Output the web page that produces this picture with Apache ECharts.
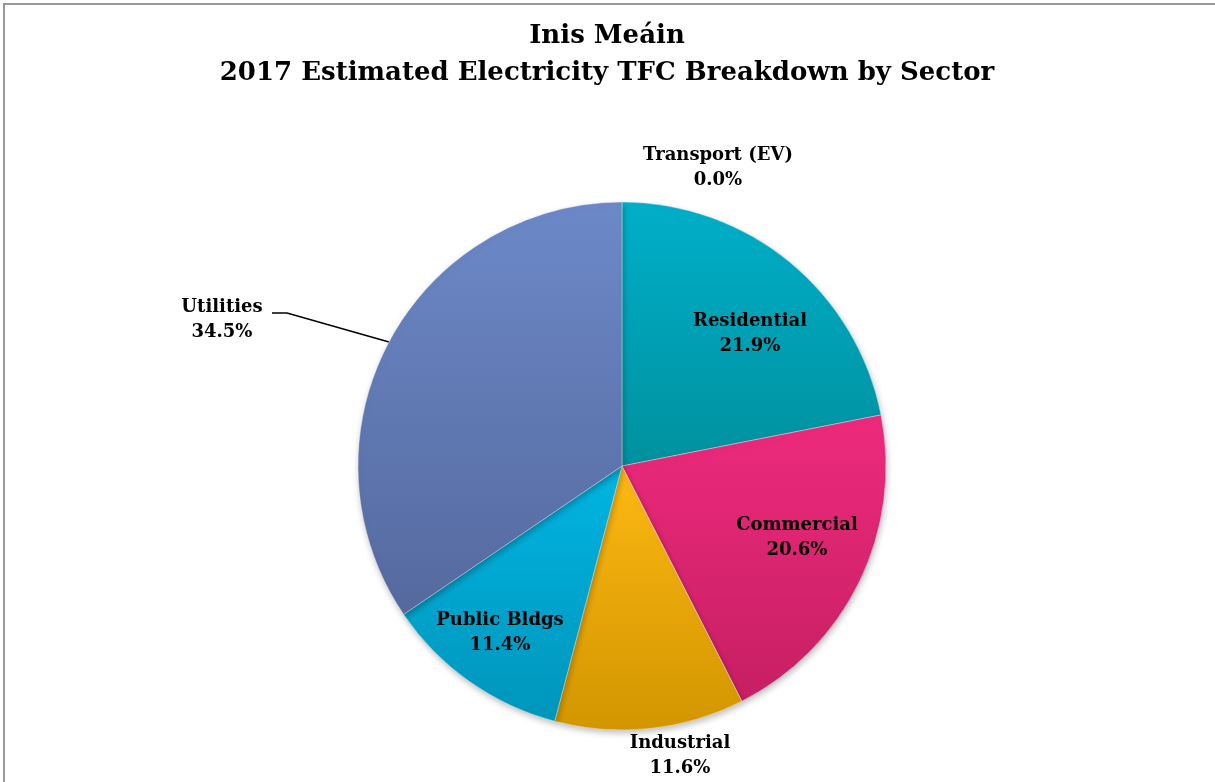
<!DOCTYPE html>
<html>
<head>
<meta charset="utf-8">
<script src="https://cdn.jsdelivr.net/npm/echarts@6/dist/echarts.min.js"></script>
<style>
html,body{margin:0;padding:0;background:#fff;}
#chart{width:1215px;height:782px;}
</style>
</head>
<body>
<div id="chart"></div>
<script>
const titleLines = ['Inis Meáin', '2017 Estimated Electricity TFC Breakdown by Sector'];
const categories = ['Transport (EV)', 'Residential', 'Commercial', 'Industrial', 'Public Bldgs', 'Utilities'];
const values = [0.0, 21.9, 20.6, 11.6, 11.4, 34.5];
const colorsTop = ['#2f9fd0', '#00AFC9', '#EE2A7D', '#FDB813', '#00B5E2', '#6C89C8'];
const colorsBottom = ['#1e7fa8', '#00919F', '#C61F63', '#D29600', '#0095BA', '#55699E'];

// label anchor points (label centre) and leader lines, in px
const labelPos = [[718, 168], [750, 334], [797, 538], [680, 756], [500, 633], [222, 320]];
const leader = {5: [[389, 342], [287, 313], [272, 313]]};

const chart = echarts.init(document.getElementById('chart'));
const FONT = '"DejaVu Serif", "Liberation Serif", serif';

const data = categories.map((c, i) => ({
  name: c,
  value: values[i],
  itemStyle: {
    color: new echarts.graphic.LinearGradient(0, 0, 0, 1, [
      {offset: 0, color: colorsTop[i]},
      {offset: 1, color: colorsBottom[i]}
    ])
  },
  labelLine: {show: !!leader[i]}
}));

chart.setOption({
  backgroundColor: '#fff',
  animation: false,
  title: {
    text: titleLines.join('\n'),
    left: 602, top: 13, textAlign: 'center',
    textStyle: {fontFamily: FONT, fontWeight: 'bold', fontSize: 26, lineHeight: 37, color: '#000'}
  },
  graphic: [{
    type: 'rect', silent: true,
    shape: {x: 4, y: 4, width: 1240, height: 800},
    style: {fill: 'none', stroke: '#999', lineWidth: 2}
  }],
  series: [{
    type: 'pie',
    center: [622, 466],
    radius: 264,
    startAngle: 90,
    clockwise: true,
    stillShowZeroSum: true,
    avoidLabelOverlap: false,
    data: data,
    itemStyle: {
      borderColor: 'rgba(255,255,255,0.6)', borderWidth: 0.6,
      shadowBlur: 6, shadowOffsetX: 1, shadowOffsetY: 3, shadowColor: 'rgba(0,0,0,0.25)'
    },
    label: {
      show: true,
      position: 'outside',
      formatter: p => p.name + '\n' + p.value.toFixed(1) + '%',
      fontFamily: FONT, fontWeight: 'bold', fontSize: 18, lineHeight: 25, color: '#000',
      align: 'center'
    },
    labelLine: {show: true, length: 20, length2: 20, lineStyle: {color: '#000', width: 1.5}},
    labelLayout: function (params) {
      const i = params.dataIndex;
      const pos = labelPos[i];
      const res = {x: pos[0], y: pos[1], align: 'center', verticalAlign: 'middle'};
      if (leader[i]) res.labelLinePoints = leader[i];
      return res;
    }
  }]
});
</script>
</body>
</html>
